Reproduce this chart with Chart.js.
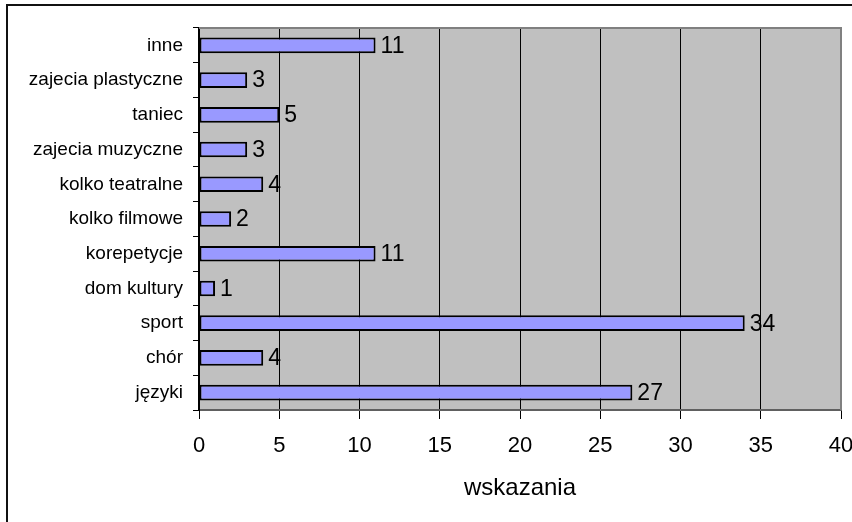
<!DOCTYPE html>
<html>
<head>
<meta charset="utf-8">
<script src="https://cdn.jsdelivr.net/npm/chart.js@4.4.0/dist/chart.umd.min.js"></script>
<style>
    body { margin: 0; background: #fff; }
    #wrap { position: relative; width: 852px; height: 522px; overflow: hidden; }
    #frame { position: absolute; left: 6px; top: 4px; width: 900px; height: 600px;
             border-left: 2px solid #111; border-top: 2px solid #111; }
    canvas { position: absolute; left: 0; top: 0; }
</style>
</head>
<body>
<div id="wrap">
    <div id="frame"></div>
    <canvas id="barChart" width="852" height="522"></canvas>
</div>
<script>
// Categories (top to bottom) and counts
const categories = ['inne', 'zajecia plastyczne', 'taniec', 'zajecia muzyczne', 'kolko teatralne',
    'kolko filmowe', 'korepetycje', 'dom kultury', 'sport', 'chór', 'języki'];
const counts = [11, 3, 5, 3, 4, 2, 11, 1, 34, 4, 27];
const axisTitle = 'wskazania';

const FONT = "'Liberation Sans', Arial, sans-serif";

// Gray plot background with a gray frame on top and right
const plotBackground = {
    id: 'plotBackground',
    beforeDraw(chart) {
        const { ctx, chartArea: a } = chart;
        ctx.save();
        ctx.fillStyle = '#c0c0c0';
        ctx.fillRect(a.left, a.top, a.right - a.left, a.bottom - a.top);
        ctx.restore();
    },
    afterDraw(chart) {
        const { ctx, chartArea: a } = chart;
        ctx.save();
        ctx.strokeStyle = '#808080';
        ctx.lineWidth = 2;
        ctx.beginPath();
        ctx.moveTo(a.left, a.top);
        ctx.lineTo(a.right, a.top);
        ctx.lineTo(a.right, a.bottom);
        ctx.stroke();
        ctx.restore();
    }
};

// Value labels to the right of each bar
const valueLabels = {
    id: 'valueLabels',
    afterDatasetsDraw(chart) {
        const ctx = chart.ctx;
        const meta = chart.getDatasetMeta(0);
        ctx.save();
        ctx.font = '23px ' + FONT;
        ctx.fillStyle = '#000';
        ctx.textBaseline = 'middle';
        ctx.textAlign = 'left';
        meta.data.forEach((bar, i) => {
            ctx.fillText(String(counts[i]), bar.x + 5, bar.y + 1);
        });
        ctx.restore();
    }
};

const ctx = document.getElementById('barChart').getContext('2d');
new Chart(ctx, {
    type: 'bar',
    data: {
        labels: categories,
        datasets: [{
            data: counts,
            backgroundColor: '#9999ff',
            borderColor: '#000',
            borderWidth: 2,
            borderSkipped: false,
            categoryPercentage: 1,
            barPercentage: 0.45
        }]
    },
    options: {
        indexAxis: 'y',
        responsive: false,
        animation: false,
        layout: { padding: { top: 28, right: 11, left: 0, bottom: 0 } },
        plugins: {
            legend: { display: false },
            tooltip: { enabled: false }
        },
        scales: {
            x: {
                min: 0,
                max: 40,
                ticks: { stepSize: 5, color: '#000', padding: 14, font: { family: FONT, size: 22 } },
                grid: {
                    color: (c) => c.tick && c.tick.value === 40 ? '#808080' : '#000',
                    lineWidth: 1,
                    tickLength: 9,
                    tickColor: '#000'
                },
                border: { display: true, color: '#606060', width: 2 },
                title: {
                    display: true,
                    text: axisTitle,
                    color: '#000',
                    font: { family: FONT, size: 24 },
                    padding: { top: 0, bottom: 19 }
                },
                afterFit: (s) => { s.height = 112; s.paddingRight = 0; s.paddingLeft = 0; }
            },
            y: {
                ticks: { color: '#000', padding: 10, font: { family: FONT, size: 19 } },
                grid: { drawOnChartArea: false, tickLength: 6, color: '#000', offset: true },
                border: { display: true, color: '#000', width: 2 },
                afterFit: (s) => { s.width = 199; s.paddingTop = 0; s.paddingBottom = 0; }
            }
        }
    },
    plugins: [plotBackground, valueLabels]
});
</script>
</body>
</html>
